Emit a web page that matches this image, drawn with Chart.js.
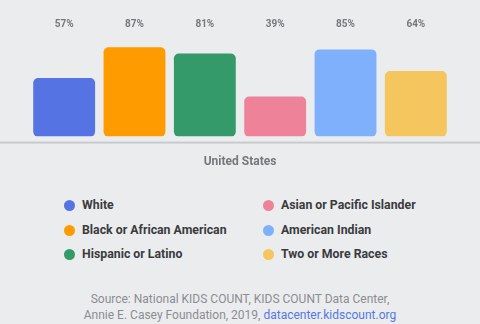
<!DOCTYPE html>
<html>
<head>
<meta charset="utf-8">
<script src="https://cdn.jsdelivr.net/npm/chart.js@4"></script>
<style>
  html, body { margin: 0; padding: 0; background: #ebecee; }
  body { width: 480px; height: 324px; position: relative; overflow: hidden; font-family: Roboto, "Noto Sans", sans-serif; }
  #wrap { position: absolute; left: 0; top: 0; width: 480px; height: 195px; }
  .legend-item { position: absolute; font-size: 12.3px; font-weight: 700; color: #3a3b3d; line-height: 14px; white-space: nowrap; }
  .legend-item .dot { position: absolute; left: -18px; top: 2px; width: 11px; height: 11px; border-radius: 50%; }
  #source { position: absolute; left: 0; width: 480px; top: 291px; text-align: center; font-size: 12px; line-height: 16px; color: #8b8d91; }
  #source a { color: #5479e2; text-decoration: none; }
</style>
</head>
<body>
<div id="wrap"><canvas id="chart" width="480" height="195"></canvas></div>
<div id="legend"></div>
<div id="source">Source: National KIDS COUNT, KIDS COUNT Data Center,<br>Annie E. Casey Foundation, 2019, <a href="#">datacenter.kidscount.org</a></div>
<script>
// data
const groups = ["White", "Black or African American", "Hispanic or Latino",
  "Asian or Pacific Islander", "American Indian", "Two or More Races"];
const values = [57, 87, 81, 39, 85, 64];
const colors = ["#5573e3", "#fe9b00", "#359a69", "#ee8299", "#7fb0fb", "#f5c65d"];
const category = ["United States"];

// value labels, all on one line at the top
const topLabels = {
  id: 'topLabels',
  afterDatasetsDraw: (chart) => {
    const ctx = chart.ctx;
    ctx.save();
    ctx.font = 'bold 10px Roboto';
    ctx.fillStyle = '#76787c';
    ctx.textAlign = 'center';
    ctx.textBaseline = 'middle';
    chart.data.datasets.forEach((ds, i) => {
      const bar = chart.getDatasetMeta(i).data[0];
      ctx.fillText(ds.data[0] + '%', bar.x, 24);
    });
    ctx.restore();
  }
};

// grey baseline across the whole width
const baseLine = {
  id: 'baseLine',
  afterDraw: (chart) => {
    const ctx = chart.ctx;
    ctx.save();
    ctx.fillStyle = '#c9cacd';
    ctx.fillRect(0, chart.chartArea.bottom + 5, chart.width, 2);
    ctx.restore();
  }
};

const datasets = groups.map((g, i) => ({
  label: g,
  data: [values[i]],
  backgroundColor: colors[i],
  borderRadius: 5,
  borderSkipped: false,
  barPercentage: 0.88,
  categoryPercentage: 1.0
}));

new Chart(document.getElementById("chart"), {
  type: "bar",
  data: { labels: category, datasets: datasets },
  options: {
    responsive: false,
    animation: false,
    layout: { padding: { left: 29, right: 29, top: 34, bottom: 16 } },
    plugins: { legend: { display: false }, tooltip: { enabled: false } },
    scales: {
      x: {
        grid: { display: false },
        border: { display: false },
        ticks: { color: '#75777b', font: { family: 'Roboto', size: 12, weight: 'bold' }, padding: 10 }
      },
      y: { display: false, min: 0, max: 100 }
    }
  },
  plugins: [topLabels, baseLine]
});

// legend in two columns
const legend = document.getElementById("legend");
const legendX = [82, 281];
const legendY = [198, 223, 247];
groups.forEach((g, i) => {
  const item = document.createElement("div");
  item.className = "legend-item";
  item.style.left = legendX[Math.floor(i / 3)] + "px";
  item.style.top = legendY[i % 3] + "px";
  item.innerHTML = '<span class="dot" style="background:' + colors[i] + '"></span>' + g;
  legend.appendChild(item);
});
</script>
</body>
</html>
